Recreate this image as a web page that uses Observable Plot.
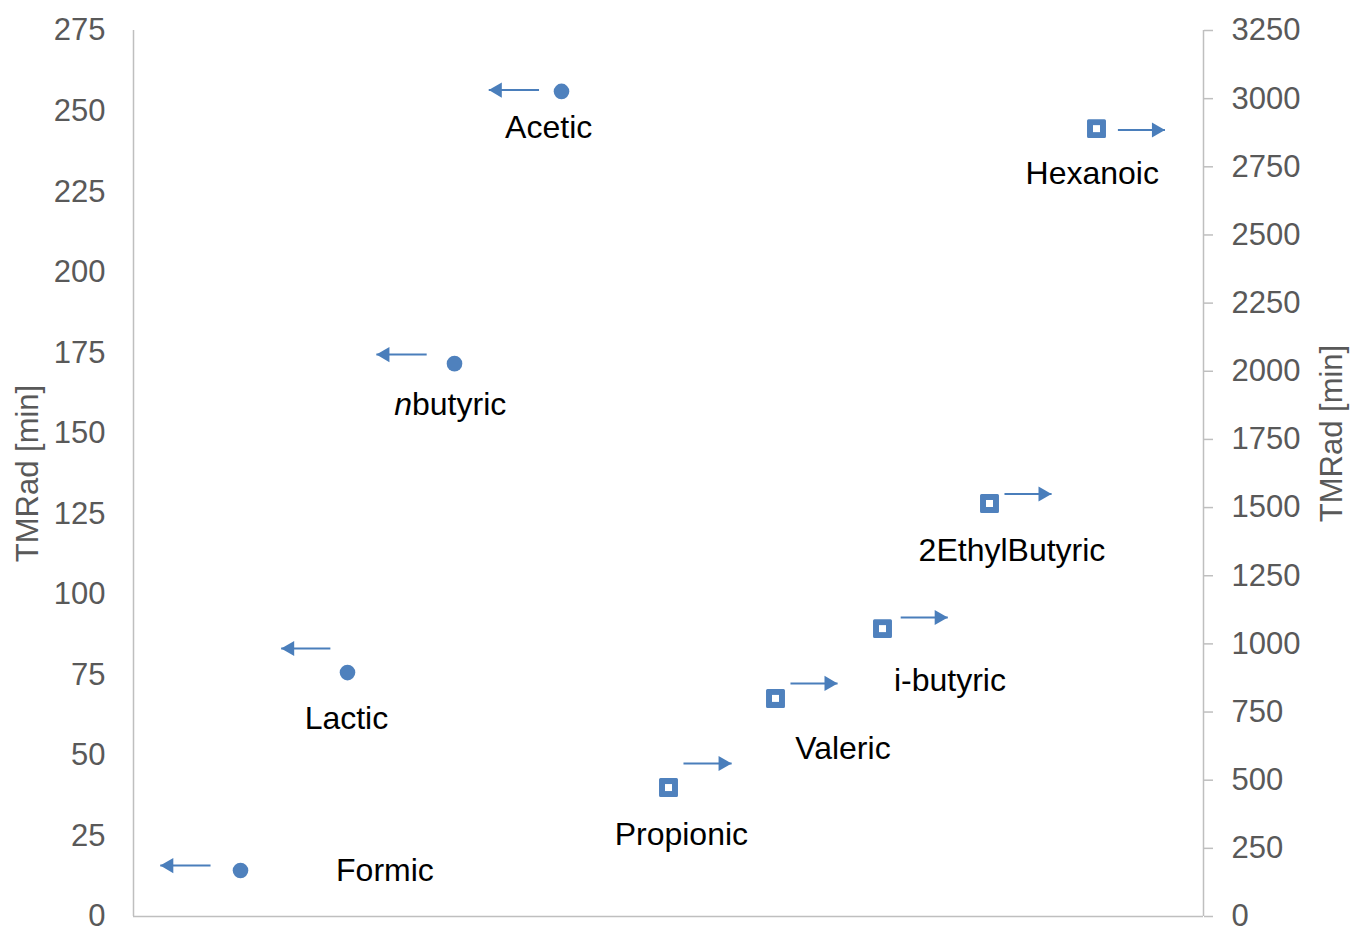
<!DOCTYPE html>
<html><head><meta charset="utf-8">
<script src="https://cdn.jsdelivr.net/npm/d3@7"></script>
<script src="https://cdn.jsdelivr.net/npm/@observablehq/plot@0.6"></script>
<style>body{margin:0;background:#fff}</style>
</head><body><div id="chart"></div>
<script>
// Left-axis series (circles), TMRad [min]
const circleNames = ["Formic", "Lactic", "nbutyric", "Acetic"];
const circleX = [1, 2, 3, 4];
const circleY = [14.3, 75.7, 171.6, 256.1];
// Right-axis series (squares), TMRad [min]
const squareNames = ["Propionic", "Valeric", "i-butyric", "2EthylButyric", "Hexanoic"];
const squareX = [5, 6, 7, 8, 9];
const squareY = [473, 800, 1056, 1515, 2890];
// Label anchor positions (data units)
const circleLabelX = [2.35, 1.99, 2.96, 3.88];
const circleLabelY = [14.3, 61.5, 158.9, 244.9];
const squareLabelX = [5.12, 6.63, 7.63, 8.21, 8.96];
const squareLabelY = [301, 616, 866, 1342, 2725];
// Arrows (data units): left-pointing for circles, right-pointing for squares
const circleArrowX1 = [0.72, 1.84, 2.74, 3.79];
const circleArrowX2 = [0.25, 1.38, 2.27, 3.32];
const circleArrowY = [15.8, 83.2, 174.4, 256.5];
const squareArrowX1 = [5.14, 6.14, 7.17, 8.14, 9.2];
const squareArrowX2 = [5.59, 6.58, 7.61, 8.58, 9.64];
const squareArrowY = [561, 855, 1097, 1550, 2885];
// Axis ticks
const leftTicks = d3.range(0, 276, 25);
const rightTicks = d3.range(0, 3251, 250);
const leftMax = 275, rightMax = 3250;
const k = leftMax / rightMax;

const blue = "#4f81bd";
const arrowBlue = "#4a7ebb";
const axisGray = "#bfbfbf";
const textGray = "#595959";
const FS = 31;
const LFS = 32;

const circles = circleNames.map((n, i) => ({name: n, x: circleX[i], y: circleY[i]}));
const squares = squareNames.map((n, i) => ({name: n, x: squareX[i], y: squareY[i] * k}));
const labels = [
  ...circleNames.map((n, i) => ({name: n, x: circleLabelX[i], y: circleLabelY[i]})),
  ...squareNames.map((n, i) => ({name: n, x: squareLabelX[i], y: squareLabelY[i] * k}))
];
const leftArrows = circleArrowX1.map((x1, i) => ({x1, x2: circleArrowX2[i], y: circleArrowY[i]}));
const rightArrows = squareArrowX1.map((x1, i) => ({x1, x2: squareArrowX2[i], y: squareArrowY[i] * k}));

const chart = Plot.plot({
  width: 1351,
  height: 929,
  marginLeft: 133,
  marginRight: 148,
  marginTop: 30,
  marginBottom: 13,
  style: {fontFamily: "'Liberation Sans', Arial, sans-serif", background: "#fff", overflow: "visible"},
  x: {domain: [0, 10], axis: null},
  y: {domain: [0, leftMax], axis: null},
  marks: [
    Plot.ruleY([0], {x1: 0, x2: 10, stroke: axisGray, strokeWidth: 1.5}),
    Plot.ruleX([0, 10], {y1: 0, y2: leftMax, stroke: axisGray, strokeWidth: 1.5}),
    Plot.axisY(leftTicks, {anchor: "left", tickSize: 0, tickPadding: 28, fontSize: FS, fill: textGray, label: null, tickFormat: d => d}),
    Plot.axisY(rightTicks.map(v => v * k), {anchor: "right", tickSize: 9, tickPadding: 19, fontSize: FS, stroke: axisGray, strokeWidth: 1.5, fill: textGray, label: null, tickFormat: d => String(Math.round(d / k))}),
    Plot.text(["TMRad [min]"], {text: d => d, frameAnchor: "left", textAnchor: "middle", rotate: -90, dx: -105, fontSize: FS, fill: textGray}),
    Plot.text(["TMRad [min]"], {text: d => d, frameAnchor: "right", textAnchor: "middle", rotate: -90, dx: 129, dy: -40, fontSize: FS, fill: textGray}),
    Plot.link(leftArrows, {x1: "x1", x2: "x2", y1: "y", y2: "y", stroke: arrowBlue, strokeWidth: 2}),
    Plot.dot(leftArrows, {x: "x2", y: "y", symbol: "triangle", rotate: -90, r: 5.6, dx: 8.7, fill: arrowBlue}),
    Plot.link(rightArrows, {x1: "x1", x2: "x2", y1: "y", y2: "y", stroke: arrowBlue, strokeWidth: 2}),
    Plot.dot(rightArrows, {x: "x2", y: "y", symbol: "triangle", rotate: 90, r: 5.6, dx: -8.7, fill: arrowBlue}),
    Plot.dot(circles, {x: "x", y: "y", r: 7.8, fill: blue}),
    Plot.dot(squares, {x: "x", y: "y", symbol: "square", r: 9, fill: blue, stroke: blue, strokeWidth: 3, strokeLinejoin: "round"}),
    Plot.dot(squares, {x: "x", y: "y", symbol: "square", r: 3.95, fill: "#fff"}),
    Plot.text(labels, {x: "x", y: "y", text: "name", fontSize: LFS, fill: "#000", textAnchor: "middle"})
  ]
});

// italic "n" in nbutyric
chart.querySelectorAll("text").forEach(t => {
  if (t.textContent === "nbutyric" && t.children.length === 0) {
    t.textContent = "";
    const ns = "http://www.w3.org/2000/svg";
    const a = document.createElementNS(ns, "tspan");
    a.setAttribute("font-style", "italic");
    a.textContent = "n";
    const b = document.createElementNS(ns, "tspan");
    b.textContent = "butyric";
    t.appendChild(a); t.appendChild(b);
  }
});

document.getElementById("chart").appendChild(chart);
</script>
</body></html>
